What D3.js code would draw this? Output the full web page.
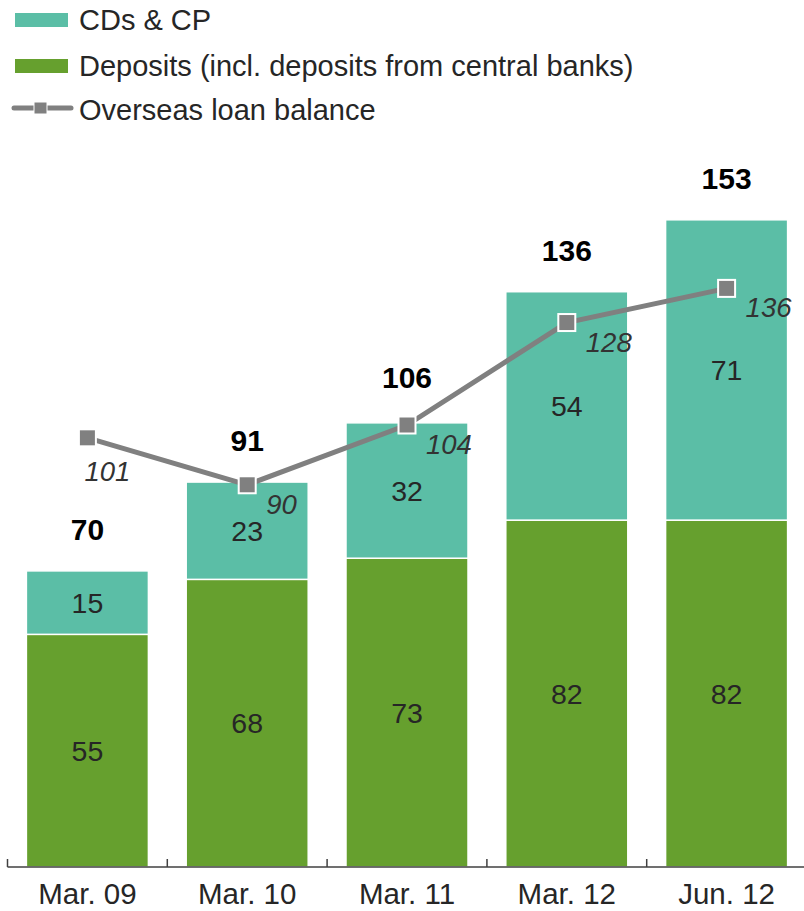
<!DOCTYPE html>
<html>
<head>
<meta charset="utf-8">
<script src="https://cdn.jsdelivr.net/npm/d3@7"></script>
<style>
  html, body { margin: 0; padding: 0; background: #fff; }
  svg { display: block; font-family: Arial, "Liberation Sans", sans-serif; }
</style>
</head>
<body>
<svg id="chart" width="804" height="911"></svg>
<script>
// Periods on the category axis
const categories = ["Mar. 09", "Mar. 10", "Mar. 11", "Mar. 12", "Jun. 12"];
// Stacked series (bottom to top)
const deposits = [55, 68, 73, 82, 82];
const cdsCp = [15, 23, 32, 54, 71];
// Totals shown above each stack
const totals = [70, 91, 106, 136, 153];
// Overseas loan balance (line, secondary scale)
const overseasLoans = [101, 90, 104, 128, 136];

const seriesNames = ["CDs & CP", "Deposits (incl. deposits from central banks)", "Overseas loan balance"];
const colors = { cds: "#5bbea6", deposits: "#66a02e", line: "#808080", text: "#262626" };

const svg = d3.select("#chart");

const baseY = 867;
const x = d3.scaleBand()
  .domain(categories)
  .range([7.5, 806.5])
  .paddingInner(0.2365)
  .paddingOuter(0.2365 / 2);

const yBar = d3.scaleLinear().domain([0, 160]).range([baseY, baseY - 160 * 4.23]);
const yLine = d3.scaleLinear().domain([0, 159]).range([baseY + 2, baseY - 160 * 4.23]);

const rows = categories.map((c, i) => ({ cat: c, dep: deposits[i], cds: cdsCp[i], total: totals[i], loan: overseasLoans[i] }));

// Stacked bars
const stack = d3.stack().keys(["dep", "cds"])(rows);
const fills = { dep: colors.deposits, cds: colors.cds };

const layers = svg.append("g").selectAll("g")
  .data(stack).join("g")
  .attr("fill", d => fills[d.key]);

layers.selectAll("rect")
  .data(d => d.map(p => ({ p, key: d.key })))
  .join("rect")
  .attr("x", d => x(d.p.data.cat))
  .attr("width", x.bandwidth())
  .attr("y", d => yBar(d.p[1]))
  .attr("height", d => yBar(d.p[0]) - yBar(d.p[1]))
  .attr("stroke", "#fff")
  .attr("stroke-width", 1.5);

// Segment values
layers.selectAll("text")
  .data(d => d.map(p => ({ p, key: d.key })))
  .join("text")
  .attr("x", d => x(d.p.data.cat) + x.bandwidth() / 2)
  .attr("y", d => (yBar(d.p[0]) + yBar(d.p[1])) / 2)
  .attr("dy", "0.36em")
  .attr("text-anchor", "middle")
  .attr("fill", colors.text)
  .attr("font-size", 28.5)
  .text(d => d.p[1] - d.p[0]);

// Totals above stacks
svg.append("g").selectAll("text")
  .data(rows).join("text")
  .attr("x", d => x(d.cat) + x.bandwidth() / 2)
  .attr("y", d => yBar(d.total) - 31)
  .attr("text-anchor", "middle")
  .attr("font-size", 30)
  .attr("font-weight", "bold")
  .attr("fill", "#000")
  .text(d => d.total);

// Category axis
const axis = svg.append("g").attr("transform", `translate(0,${baseY})`);
axis.append("line")
  .attr("x1", 7.5).attr("x2", 804)
  .attr("stroke", "#404040").attr("stroke-width", 1.5);
const tickXs = categories.map(c => x(c) - x.step() * x.paddingInner() / 2);
axis.selectAll(".tick")
  .data(tickXs).join("line")
  .attr("x1", d => d).attr("x2", d => d)
  .attr("y1", 0).attr("y2", -8)
  .attr("stroke", "#404040").attr("stroke-width", 1.5);
axis.selectAll("text")
  .data(categories).join("text")
  .attr("x", d => x(d) + x.bandwidth() / 2)
  .attr("y", 37)
  .attr("text-anchor", "middle")
  .attr("font-size", 29.5)
  .attr("fill", colors.text)
  .text(d => d);

// Overseas loan balance line
const line = d3.line()
  .x(d => x(d.cat) + x.bandwidth() / 2)
  .y(d => yLine(d.loan));

svg.append("path")
  .datum(rows)
  .attr("d", line)
  .attr("fill", "none")
  .attr("stroke", colors.line)
  .attr("stroke-width", 5);

svg.append("g").selectAll("rect")
  .data(rows).join("rect")
  .attr("x", d => x(d.cat) + x.bandwidth() / 2 - 8.5)
  .attr("y", d => yLine(d.loan) - 8.5)
  .attr("width", 17).attr("height", 17)
  .attr("fill", colors.line)
  .attr("stroke", "#fff").attr("stroke-width", 2);

// Line value labels (first sits below its marker, the rest to the lower right)
svg.append("g").selectAll("text")
  .data(rows).join("text")
  .attr("x", (d, i) => x(d.cat) + x.bandwidth() / 2 + (i === 0 ? 20 : 19))
  .attr("y", (d, i) => yLine(d.loan) + (i === 0 ? 43 : 29))
  .attr("text-anchor", (d, i) => i === 0 ? "middle" : "start")
  .attr("font-size", 27.5)
  .attr("font-style", "italic")
  .attr("fill", "#333")
  .text(d => d.loan);

// Legend
const legend = svg.append("g");
legend.append("rect").attr("x", 15).attr("y", 13).attr("width", 53).attr("height", 14).attr("fill", colors.cds);
legend.append("rect").attr("x", 15).attr("y", 59).attr("width", 53).attr("height", 14).attr("fill", colors.deposits);
legend.append("line").attr("x1", 14).attr("x2", 71).attr("y1", 108).attr("y2", 108)
  .attr("stroke", colors.line).attr("stroke-width", 5).attr("stroke-linecap", "round");
legend.append("rect").attr("x", 34).attr("y", 102).attr("width", 13).attr("height", 12)
  .attr("fill", colors.line).attr("stroke", "#fff").attr("stroke-width", 1);
legend.selectAll("text")
  .data(seriesNames).join("text")
  .attr("x", 79)
  .attr("y", (d, i) => [20, 66, 110][i])
  .attr("dy", "0.36em")
  .attr("font-size", 29)
  .attr("fill", colors.text)
  .text(d => d);
</script>
</body>
</html>
